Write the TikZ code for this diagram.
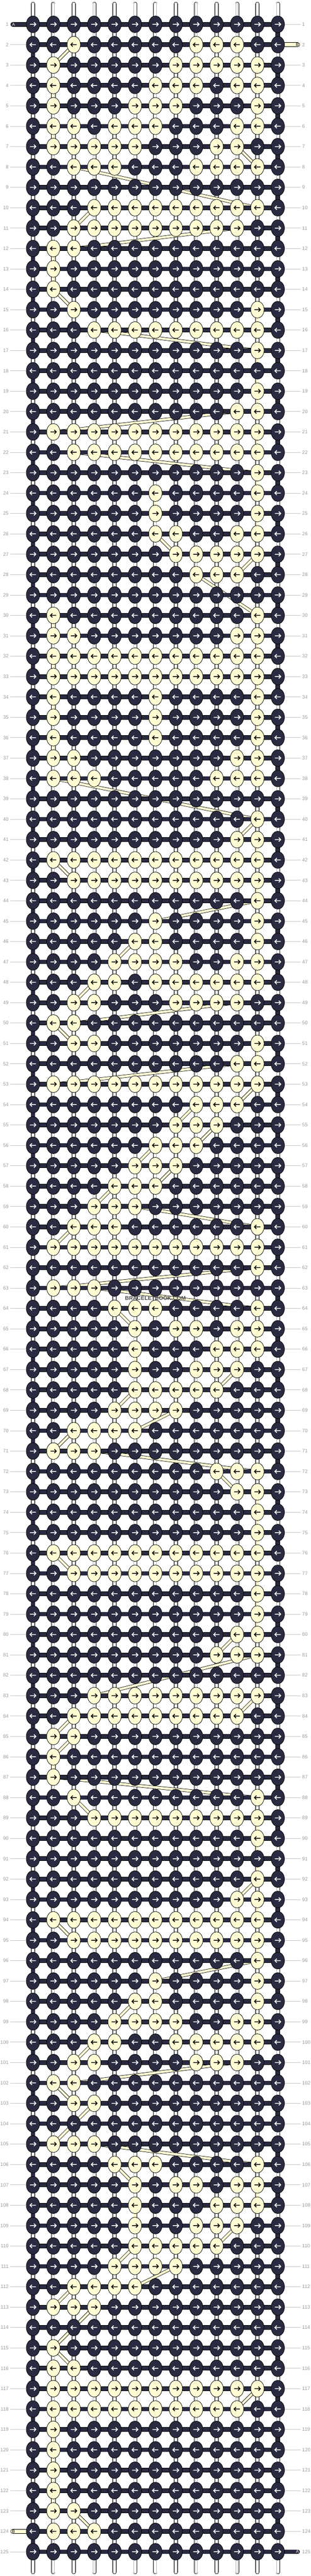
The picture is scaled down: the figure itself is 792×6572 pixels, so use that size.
\documentclass[tikz,border=0pt]{standalone}
\usepackage{fontspec}
\setmainfont{Liberation Sans}
\usetikzlibrary{shapes.geometric}

\definecolor{threaddark}{HTML}{2A2A40}
\definecolor{threadcream}{HTML}{FFFCD4}
\definecolor{numgray}{HTML}{9A9A9A}
\definecolor{linegray}{HTML}{C4C4C4}
\definecolor{warpgray}{HTML}{B4B4B4}

\pgfdeclarelayer{warp}
\pgfdeclarelayer{bars}
\pgfdeclarelayer{bthread}
\pgfsetlayers{warp,bthread,bars,main}

\def\unbrace#1{#1}

\tikzset{
  knot/.style={ellipse, draw=black, line width=1pt, minimum width=34pt, minimum height=43pt, inner sep=0pt},
  knot0/.style={knot, fill=threaddark},
  knot1/.style={knot, fill=threadcream},
  glyph0/.style={draw=white, line width=2pt},
  glyph1/.style={draw=black, line width=2pt},
  warpedge/.style={draw=black, line width=1pt, double=white, double distance=8.5pt, line cap=round},
  warpcore/.style={draw=warpgray, line width=1pt, double=white, double distance=5pt, line cap=round},
  abar/.style={draw=black, line width=1pt, double=threaddark, double distance=9.5pt},
  bbar/.style={draw=black, line width=1pt, double=threadcream, double distance=9.5pt},
  bvert/.style={draw=black, line width=1pt, double=threadcream, double distance=9pt},
  bdiag/.style={draw=black, line width=1pt, double=threadcream, double distance=6pt},
  rownum/.style={font=\fontsize{12.5}{14}\selectfont, text=numgray, inner xsep=4pt, inner ysep=0pt},
  numline/.style={draw=linegray, line width=1pt},
  tagtext/.style={font=\fontsize{11}{12}\selectfont, inner sep=0pt},
  watermark/.style={font=\bfseries\fontsize{14}{16}\selectfont, text=black!70}
}

\begin{document}
\begin{tikzpicture}[x=1pt,y=-1pt]
		%%%%% START %%%%%
		\useasboundingbox (0,0) rectangle (792,6572);
		
		% knots, one row per line (0 = thread A, 1 = thread B)
		\foreach \rw/\row in {
			1/{0,0,0,0,0,0,0,0,0,0,0,0,0},
			2/{0,0,1,0,0,0,0,0,1,1,1,0,0},
			3/{0,1,0,0,0,0,0,1,1,1,1,1,0},
			4/{0,1,0,0,0,0,1,1,1,0,1,1,0},
			5/{0,1,0,0,0,1,1,1,0,0,0,1,0},
			6/{0,1,1,0,1,1,1,0,0,0,1,1,0},
			7/{0,1,1,1,1,1,0,0,0,1,1,0,0},
			8/{0,0,1,1,1,0,0,0,1,1,1,1,0},
			9/{0,0,0,0,0,0,0,0,0,0,0,0,0},
			10/{0,0,0,1,1,1,1,1,1,1,1,1,0},
			11/{0,0,1,1,1,1,1,1,1,1,1,0,0},
			12/{0,1,1,0,0,0,0,0,0,0,0,0,0},
			13/{0,1,0,0,0,0,0,0,0,0,0,0,0},
			14/{0,1,0,0,0,0,0,0,0,0,0,0,0},
			15/{0,0,1,0,0,0,0,0,0,0,0,1,0},
			16/{0,0,0,1,1,1,1,1,1,1,1,1,0},
			17/{0,0,0,0,0,0,0,0,0,0,0,1,0},
			18/{0,0,0,0,0,0,0,0,0,0,0,0,0},
			19/{0,0,0,0,0,0,0,0,0,0,0,1,0},
			20/{0,0,0,0,0,0,0,0,0,0,1,1,0},
			21/{0,1,1,1,1,1,1,1,1,1,1,1,0},
			22/{0,0,1,1,1,1,1,1,1,1,1,1,0},
			23/{0,0,0,0,0,0,0,0,0,0,0,1,0},
			24/{0,0,0,0,0,0,1,0,0,0,0,1,0},
			25/{0,0,0,0,0,0,1,0,0,0,0,1,0},
			26/{0,0,0,0,0,0,1,1,0,0,1,1,0},
			27/{0,0,0,0,0,0,0,1,1,1,1,1,0},
			28/{0,0,0,0,0,0,0,0,1,1,1,0,0},
			29/{0,0,0,0,0,0,0,0,0,0,0,0,0},
			30/{0,1,0,0,0,0,0,0,0,0,0,1,0},
			31/{0,1,1,0,0,0,0,0,0,0,1,1,0},
			32/{0,1,1,1,1,1,1,1,1,1,1,1,0},
			33/{0,1,1,1,1,1,1,1,1,1,1,1,0},
			34/{0,1,0,0,0,0,1,0,0,0,0,1,0},
			35/{0,1,0,0,0,0,1,0,0,0,0,1,0},
			36/{0,1,0,0,0,0,1,0,0,0,0,1,0},
			37/{0,1,1,0,0,0,0,0,0,0,1,1,0},
			38/{0,1,1,1,0,0,0,0,0,1,1,1,0},
			39/{0,0,0,0,0,0,0,0,0,0,0,0,0},
			40/{0,0,0,0,0,0,0,0,0,0,0,1,0},
			41/{0,0,0,0,0,0,0,0,0,0,1,1,0},
			42/{0,1,1,1,1,1,1,1,1,1,1,1,0},
			43/{0,0,1,1,1,1,1,1,1,1,1,1,0},
			44/{0,0,0,0,0,0,0,0,0,0,0,1,0},
			45/{0,0,0,0,0,0,1,0,0,0,0,1,0},
			46/{0,0,0,0,0,1,1,0,0,0,0,1,0},
			47/{0,0,0,0,1,1,1,1,0,0,1,1,0},
			48/{0,0,0,1,1,0,1,1,1,1,1,1,0},
			49/{0,0,1,1,0,0,0,1,1,1,1,0,0},
			50/{0,1,1,0,0,0,0,0,0,0,0,0,0},
			51/{0,0,1,1,0,0,0,0,0,0,0,1,0},
			52/{0,0,0,0,0,0,0,0,0,0,1,1,0},
			53/{0,1,1,1,1,1,1,1,1,1,1,1,0},
			54/{0,0,0,0,0,0,0,0,1,1,1,0,0},
			55/{0,0,0,0,0,0,0,1,1,1,0,0,0},
			56/{0,0,0,0,0,0,1,1,1,0,0,0,0},
			57/{0,0,0,0,0,1,1,1,0,0,0,0,0},
			58/{0,0,0,0,1,1,1,0,0,0,0,0,0},
			59/{0,0,0,1,1,1,0,0,0,0,0,0,0},
			60/{0,0,1,1,1,0,0,0,0,0,0,1,0},
			61/{0,1,1,1,1,1,1,1,1,1,1,1,0},
			62/{0,0,0,0,0,0,0,0,0,0,0,1,0},
			63/{0,1,1,1,0,0,0,0,0,0,0,0,0},
			64/{0,0,0,0,1,1,1,0,0,0,0,1,0},
			65/{0,0,0,0,0,1,0,1,1,0,1,1,0},
			66/{0,0,0,0,0,1,0,0,0,1,1,1,0},
			67/{0,0,0,0,0,1,0,0,1,1,1,0,0},
			68/{0,0,0,0,0,1,1,1,1,1,0,0,0},
			69/{0,0,0,0,1,1,1,1,0,0,0,0,0},
			70/{0,0,1,1,1,1,0,0,0,0,0,0,0},
			71/{0,1,1,1,0,0,0,0,0,0,0,0,0},
			72/{0,0,0,0,0,0,0,0,0,1,1,1,0},
			73/{0,0,0,0,0,0,0,0,0,0,1,1,0},
			74/{0,0,0,0,0,0,0,0,0,0,0,1,0},
			75/{0,0,0,0,0,0,0,0,0,0,0,1,0},
			76/{0,1,1,1,1,1,1,1,1,1,1,1,0},
			77/{0,0,1,1,1,1,1,1,1,1,1,1,0},
			78/{0,0,0,0,0,0,0,0,0,0,0,1,0},
			79/{0,0,0,0,0,0,0,0,0,0,0,1,0},
			80/{0,0,0,0,0,0,0,0,0,0,1,1,0},
			81/{0,0,0,0,0,0,0,0,0,1,1,1,0},
			82/{0,0,0,0,0,0,0,0,0,0,0,0,0},
			83/{0,0,0,1,1,1,1,1,1,1,1,1,0},
			84/{0,0,1,1,1,1,1,1,1,1,1,0,0},
			85/{0,1,1,0,0,0,0,0,0,0,0,0,0},
			86/{0,1,0,0,0,0,0,0,0,0,0,0,0},
			87/{0,1,0,0,0,0,0,0,0,0,0,0,0},
			88/{0,0,1,0,0,0,0,0,0,0,0,1,0},
			89/{0,0,0,1,1,1,1,1,1,1,1,1,0},
			90/{0,0,0,0,0,0,0,0,0,0,0,1,0},
			91/{0,0,0,0,0,0,0,0,0,0,0,0,0},
			92/{0,0,0,0,0,0,0,0,0,0,0,1,0},
			93/{0,0,0,0,0,0,0,0,0,0,1,1,0},
			94/{0,1,1,1,1,1,1,1,1,1,1,1,0},
			95/{0,0,1,1,1,1,1,1,1,1,1,1,0},
			96/{0,0,0,0,0,0,0,0,0,0,0,1,0},
			97/{0,0,0,0,0,0,1,0,0,0,0,1,0},
			98/{0,0,0,0,0,1,1,0,0,0,0,1,0},
			99/{0,0,0,0,1,1,1,1,0,0,1,1,0},
			100/{0,0,0,1,1,0,0,1,1,1,1,1,0},
			101/{0,0,1,1,0,0,0,0,1,1,1,0,0},
			102/{0,1,1,0,0,0,0,0,0,0,0,0,0},
			103/{0,0,1,1,0,0,0,0,0,0,0,0,0},
			104/{0,0,0,0,0,0,0,0,0,0,0,0,0},
			105/{0,1,1,1,0,0,0,0,0,0,0,0,0},
			106/{0,0,0,0,1,1,1,0,0,0,0,1,0},
			107/{0,0,0,0,0,1,0,1,1,0,1,1,0},
			108/{0,0,0,0,0,1,0,0,0,1,1,1,0},
			109/{0,0,0,0,0,1,0,0,1,1,1,0,0},
			110/{0,0,0,0,0,1,1,1,1,1,0,0,0},
			111/{0,0,0,0,1,1,1,1,0,0,0,0,0},
			112/{0,0,1,1,1,1,0,0,0,0,0,0,0},
			113/{0,1,1,1,0,0,0,0,0,0,0,0,0},
			114/{0,0,0,0,0,0,0,0,0,0,0,0,0},
			115/{0,1,0,0,0,0,0,0,0,0,0,0,0},
			116/{0,1,1,0,0,0,0,0,0,0,0,0,0},
			117/{0,1,1,1,1,1,1,1,1,1,1,1,0},
			118/{0,1,1,1,1,1,1,1,1,1,1,0,0},
			119/{0,1,0,0,0,0,0,0,0,0,0,0,0},
			120/{0,1,0,0,0,0,0,0,0,0,0,0,0},
			121/{0,1,0,0,0,0,0,0,0,0,0,0,0},
			122/{0,1,0,0,0,0,0,0,0,0,0,0,0},
			123/{0,1,1,0,0,0,0,0,0,0,0,0,0},
			124/{0,1,1,1,0,0,0,0,0,0,0,0,0},
			125/{0,0,0,0,0,0,0,0,0,0,0,0,0}%
		}{
			\pgfmathsetmacro\yk{62+52*(\rw-1)}
			\edef\rowlist{\expandafter\unbrace\row}
			\foreach \kc [count=\cl] in \rowlist {
				\pgfmathsetmacro\xk{32+52*\cl}
				\node[knot\kc] (k-\rw-\cl) at (\xk,\yk) {};
				\expandafter\xdef\csname bk-\rw-\cl\endcsname{\kc}
				\ifodd\rw\relax
					\draw[glyph\kc] (k-\rw-\cl.center) ++(-7.5,0) -- ++(15,0) ++(-5,-5) -- ++(5,5) -- ++(-5,5);
				\else
					\draw[glyph\kc] (k-\rw-\cl.center) ++(7.5,0) -- ++(-15,0) ++(5,-5) -- ++(-5,5) -- ++(5,5);
				\fi
			}
			\node[rownum, anchor=east] (nl-\rw) at (26,\yk) {\rw};
			\node[rownum, anchor=west] (nr-\rw) at (766,\yk) {\rw};
		}
		
		% row number leaders
		\foreach \rw in {1,...,125}{
			\ifnum\rw=1\relax\else\ifnum\rw=124\relax\else
				\draw[numline] (nl-\rw.east) -- (k-\rw-1.west);
			\fi\fi
			\ifnum\rw=2\relax\else\ifnum\rw=125\relax\else
				\draw[numline] (k-\rw-13.east) -- (nr-\rw.west);
			\fi\fi
		}
		
		% warp strings
		\begin{pgfonlayer}{warp}
			\foreach \cl in {1,...,13}{
				\coordinate (wt-\cl) at (32+52*\cl,10);
				\coordinate (wb-\cl) at (32+52*\cl,6562);
				\draw[warpedge] (wt-\cl) -- (wb-\cl);
				\draw[warpcore] (wt-\cl) -- (wb-\cl);
			}
		\end{pgfonlayer}
		
		% thread A: rows and turns at the edges
		\coordinate (ta-l) at (32.5,62);
		\coordinate (ta-r) at (758.5,6510);
		\coordinate (tb-r) at (758.5,114);
		\coordinate (tb-l) at (32.5,6458);
		\begin{pgfonlayer}{bars}
			\foreach \rw in {1,...,125}{
				\draw[abar] (k-\rw-1.center) -- (k-\rw-13.center);
			}
			\foreach \rw [evaluate=\rw as \rn using int(\rw+1)] in {1,...,124}{
				\ifodd\rw\relax \def\ec{13}\else \def\ec{1}\fi
				\draw[abar] (k-\rw-\ec.center) -- (k-\rn-\ec.center);
			}
			\draw[abar, line cap=round] (ta-l) -- (k-1-1.center);
			\draw[abar, line cap=round] (k-125-13.center) -- (ta-r);
			\draw[bbar, line cap=round] (k-2-13.center) -- (tb-r);
			\draw[bbar, line cap=round] (tb-l) -- (k-124-1.center);
		\end{pgfonlayer}
		
		\node[tagtext, text=white] (la-l) at (34.5,62) {A};
		\node[tagtext, text=white] (la-r) at (758,6510) {A};
		\node[tagtext, text=black] (lb-r) at (758,114) {B};
		\node[tagtext, text=black] (lb-l) at (34.5,6458) {B};
		
		% thread B: from one of its knots to the next, row by row
		\begin{pgfonlayer}{bthread}
			\xdef\prevr{0}\xdef\prevc{0}
			\foreach \rw in {1,...,125}{
				\foreach \i in {1,...,13}{
					\ifodd\rw\relax \edef\col{\i}\else \pgfmathtruncatemacro\col{14-\i}\fi
					\ifnum\csname bk-\rw-\col\endcsname=1\relax
						\ifnum\prevr>0\relax\ifnum\prevr<\rw\relax
							\ifnum\prevc=\col\relax
								\draw[bvert] (k-\prevr-\prevc.center) -- (k-\rw-\col.center);
							\else
								\draw[bdiag] (k-\prevr-\prevc.center) -- (k-\rw-\col.center);
							\fi
						\fi\fi
						\xdef\prevr{\rw}\xdef\prevc{\col}
					\fi
				}
			}
		\end{pgfonlayer}
		
		\node[watermark] (wm) at (396,3312) {BRACELETBOOK.COM};
		
		%%%%% END %%%%%
\end{tikzpicture}
\end{document}
